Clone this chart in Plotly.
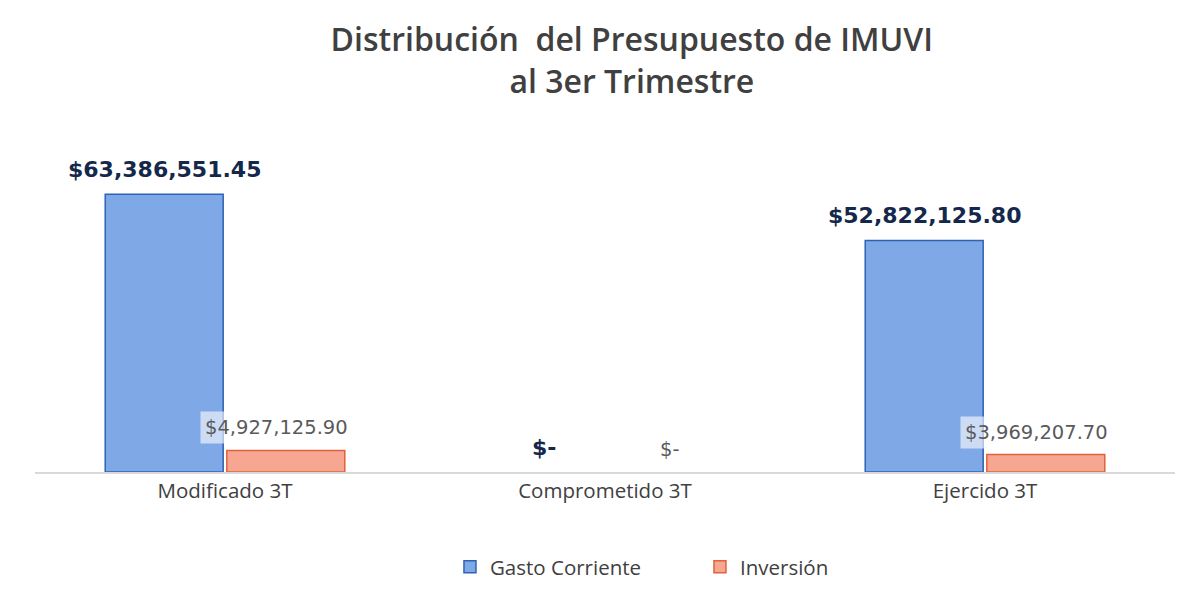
import plotly.graph_objects as go

categories = ["Modificado 3T", "Comprometido 3T", "Ejercido 3T"]
gasto_corriente = [63386551.45, 0.0, 52822125.80]
inversion = [4927125.90, 0.0, 3969207.70]
series_names = ["Gasto Corriente", "Inversión"]


def fmt(v):
    return "$-" if v == 0 else f"${v:,.2f}"


fig = go.Figure()
fig.add_trace(go.Bar(
    name=series_names[0], x=categories, y=gasto_corriente,
    marker=dict(color="#7FA9E6",
                line=dict(color="#2F62B5", width=[1.5 if v else 0 for v in gasto_corriente])),
    cliponaxis=False,
))
fig.add_trace(go.Bar(
    name=series_names[1], x=categories, y=inversion,
    marker=dict(color="#F7A692",
                line=dict(color="#E0623C", width=[1.5 if v else 0 for v in inversion])),
    cliponaxis=False,
))

for i, v in enumerate(gasto_corriente):
    fig.add_annotation(
        x=i - 0.16, y=v, xref="x", yref="y", text=fmt(v),
        showarrow=False, yanchor="bottom", yshift=10,
        font=dict(family="DejaVu Sans", size=22, color="#14284B", weight="bold"),
    )

for i, v in enumerate(inversion):
    fig.add_annotation(
        x=i + 0.16, y=v, xref="x", yref="y", text=fmt(v),
        showarrow=False, yanchor="bottom", yshift=6, xshift=-9 if v else 4,
        font=dict(family="DejaVu Sans", size=19.5, color="#5A5A5A"),
        bgcolor="rgba(255,255,255,0.6)" if v else "rgba(0,0,0,0)",
        borderpad=4,
    )

fig.update_layout(
    width=1202, height=616,
    paper_bgcolor="white", plot_bgcolor="white",
    margin=dict(l=27, r=35, t=112, b=152),
    barmode="group", bargap=0.36, bargroupgap=0.03,
    title=dict(
        text="Distribución  del Presupuesto de IMUVI<br>al 3er Trimestre",
        x=0.519, xanchor="center", y=0.93, yanchor="top",
        font=dict(family="Open Sans", size=32, color="#404040", weight=600),
    ),
    xaxis=dict(
        showline=True, linecolor="#D9D9D9", linewidth=1.5, ticks="",
        tickfont=dict(family="Open Sans", size=20.5, color="#404040"),
    ),
    yaxis=dict(visible=False, range=[0, 80.3e6]),
    legend=dict(
        orientation="h", x=0.364, xanchor="left", y=-0.27, yanchor="middle",
        font=dict(family="Open Sans", size=20.5, color="#404040"),
        itemwidth=30, traceorder="normal",
        entrywidth=205, entrywidthmode="pixels",
    ),
    showlegend=True,
)

fig.write_html("out.html")
